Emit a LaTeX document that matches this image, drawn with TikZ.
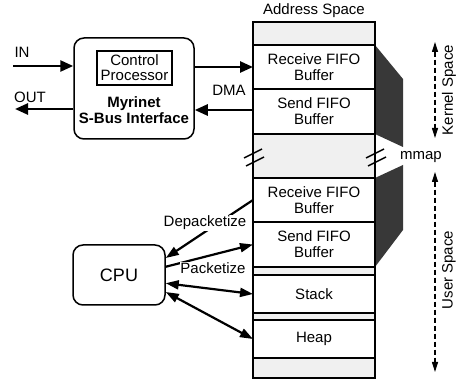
\documentclass[tikz,border=0pt]{standalone}
\usepackage{fontspec}
\setmainfont{Liberation Sans}
\usetikzlibrary{arrows.meta,calc}
\begin{document}
\begin{tikzpicture}[x=1pt,y=-1pt,
  txt/.style={font=\fontsize{15}{16}\selectfont},
  seg/.style={draw, line width=1.4pt, minimum width=122pt, inner sep=0pt, outer sep=0pt,
              align=center, fill=white, font=\fontsize{15}{16}\selectfont},
  shadeseg/.style={seg, fill=black!6},
  bigarrow/.style={line width=2.6pt, -{Triangle[length=13pt,width=11pt]}},
  cpuarrow/.style={line width=2.2pt, -{Triangle[length=13pt,width=9pt]}},
  cpuboth/.style={line width=2.2pt, {Triangle[length=13pt,width=9pt]}-{Triangle[length=13pt,width=9pt]}},
  spanarrow/.style={line width=1.1pt, dash pattern=on 5pt off 3pt,
              {Triangle[length=10pt,width=6pt]}-{Triangle[length=10pt,width=6pt]}},
  band/.style={fill=black!78},
  brk/.style={line width=1.4pt},
  rbox/.style={draw, line width=1.5pt, rounded corners=10pt, inner sep=0pt}
]
\useasboundingbox (0,0) rectangle (458,379);

% mmap bands joining kernel and user buffers
\fill[band] (375,45) -- (403,79) -- (403,147) -- (375,134) -- cycle;
\fill[band] (375,178) -- (403,165) -- (403,230) -- (375,267) -- cycle;

% address space column
\node[shadeseg, minimum height=23pt] (top) at (314,33.5) {};
\node[seg, minimum height=44pt] (rk) at (314,67) {Receive FIFO\\Buffer};
\node[seg, minimum height=45pt] (sk) at (314,111.5) {Send FIFO\\Buffer};
\node[shadeseg, minimum height=44pt] (gap) at (314,156) {};
\node[seg, minimum height=44pt] (ru) at (314,200) {Receive FIFO\\Buffer};
\node[seg, minimum height=45pt] (su) at (314,244.5) {Send FIFO\\Buffer};
\node[shadeseg, minimum height=8pt] (s1) at (314,271) {};
\node[seg, minimum height=38pt] (stack) at (314,294) {Stack};
\node[shadeseg, minimum height=7pt] (s2) at (314,316.5) {};
\node[seg, minimum height=38pt] (heap) at (314,339) {Heap};
\node[shadeseg, minimum height=20pt] (bot) at (314,368) {};

% break marks on the gap
\draw[brk] (244,158) -- (262,149);
\draw[brk] (246,166) -- (264,157);
\draw[brk] (366,158) -- (384,149);
\draw[brk] (368,166) -- (386,157);

\node[txt] (addr) at (314,11) {Address Space};
\node[txt] (mmap) at (421,157) {mmap};
\node[txt, rotate=90] (ks) at (449,90) {Kernel Space};
\node[txt, rotate=90] (us) at (449,270) {User Space};

\coordinate (ka) at (435,42);
\coordinate (kb) at (435,138);
\coordinate (ua) at (435,172);
\coordinate (ub) at (435,372);
\draw[spanarrow] (ka) -- (kb);
\draw[spanarrow] (ua) -- (ub);

% network interface
\node[rbox, minimum width=120pt, minimum height=101pt] (myri) at (134,88.5) {};
\node[draw, line width=1.3pt, minimum width=75pt, minimum height=34pt, inner sep=0pt,
      align=center, font=\fontsize{15}{15}\selectfont] (cp) at (134.5,68) {Control\\Processor};
\node[font=\bfseries\fontsize{15}{16}\selectfont, align=center] (mtxt) at (134,110) {Myrinet\\S-Bus Interface};

\node[rbox, minimum width=92pt, minimum height=60pt, font=\fontsize{18}{20}\selectfont] (cpu) at (119,275) {CPU};

\coordinate (inL) at (13,66);
\coordinate (outL) at (15,109);
\coordinate (dmab) at (253,110);
\draw[bigarrow] (inL) -- (inL -| myri.west);
\draw[bigarrow] (outL -| myri.west) -- (outL);
\node[txt] (inlab) at (22,52) {IN};
\node[txt] (outlab) at (30,97) {OUT};

\draw[bigarrow] (myri.east |- rk.west) -- (rk.west);
\draw[bigarrow] (sk.west |- dmab) -- (myri.east |- dmab);
\node[txt] (dma) at (229,90) {DMA};

% processor accesses
\draw[cpuarrow] (ru.west) -- (cpu.20);
\draw[cpuarrow] (cpu.10) -- (su.west);
\draw[cpuboth] (cpu.-10) -- (stack.west);
\draw[cpuboth] (cpu.-20) -- (heap.west);
\node[txt, fill=white, inner sep=1pt] (dep) at (205,223) {Depacketize};
\node[txt, fill=white, inner sep=0.5pt] (pack) at (213,268) {Packetize};
\end{tikzpicture}
\end{document}
